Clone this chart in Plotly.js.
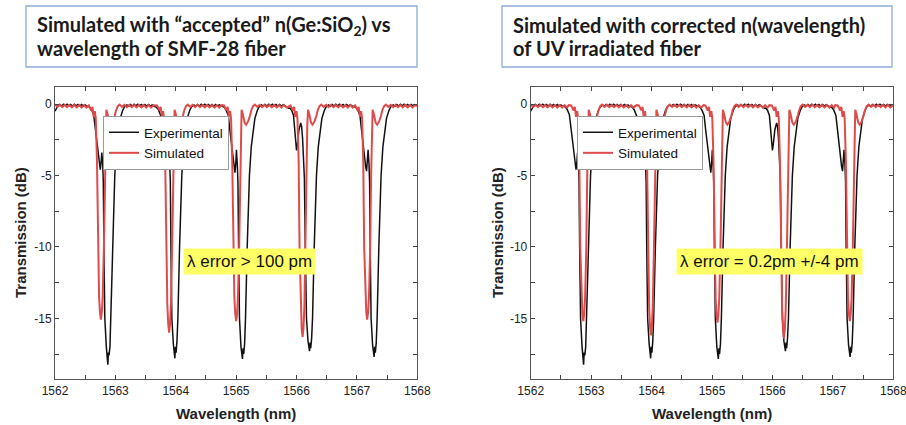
<!DOCTYPE html>
<html>
<head>
<meta charset="utf-8">
<script src="https://cdn.plot.ly/plotly-3.0.1.min.js"></script>
<style>html,body{margin:0;padding:0;background:#fff;}#chart{width:906px;height:425px;}</style>
</head>
<body>
<div id="chart"></div>
<script>
// ---------------- DATA ----------------
// Experimental transmission (same measurement shown in both panels)
const expWavelength = [
1562.00,1562.02,1562.05,1562.08,1562.11,1562.14,1562.17,1562.20,1562.23,1562.26,1562.29,1562.32,1562.35,1562.38,1562.41,1562.44,1562.47,1562.50,1562.53,
1562.57,1562.60,1562.64,1562.665,1562.71,1562.735,1562.75,1562.765,1562.775,1562.79,1562.80,1562.81,1562.825,1562.85,1562.865,1562.875,1562.885,1562.895,1562.91,1562.925,1562.953,1562.99,1563.02,1563.05,1563.08,1563.12,1563.15,1563.19,
1563.22,1563.25,1563.28,1563.31,1563.34,1563.37,1563.40,1563.43,1563.46,1563.49,1563.52,1563.55,1563.58,1563.61,1563.64,
1563.68,1563.71,1563.75,1563.775,1563.82,1563.845,1563.86,1563.875,1563.885,1563.90,1563.91,1563.92,1563.935,1563.96,1563.975,1563.985,1563.995,1564.005,1564.02,1564.035,1564.063,1564.10,1564.13,1564.16,1564.19,1564.23,1564.26,1564.30,
1564.33,1564.36,1564.39,1564.42,1564.45,1564.48,1564.51,1564.54,1564.57,1564.60,1564.63,1564.66,1564.69,1564.72,1564.76,
1564.80,1564.83,1564.87,1564.895,1564.94,1564.965,1564.98,1564.995,1565.005,1565.02,1565.03,1565.04,1565.055,1565.08,1565.095,1565.105,1565.115,1565.125,1565.14,1565.155,1565.183,1565.22,1565.25,1565.28,1565.31,1565.35,1565.38,1565.42,
1565.45,1565.48,1565.51,1565.54,1565.57,1565.60,1565.63,1565.66,1565.69,1565.72,1565.75,1565.78,1565.81,
1565.84,1565.87,1565.89,1565.92,1565.95,1565.975,1565.99,1566.00,1566.015,1566.04,1566.07,1566.085,1566.10,1566.115,1566.13,1566.145,1566.165,1566.19,1566.205,1566.215,1566.225,1566.235,1566.25,1566.265,1566.293,1566.33,1566.36,1566.39,1566.42,1566.46,1566.49,1566.53,
1566.56,1566.59,1566.62,1566.65,1566.68,1566.71,1566.74,1566.77,1566.80,1566.83,1566.86,1566.89,1566.93,
1566.98,1567.01,1567.05,1567.075,1567.12,1567.145,1567.16,1567.175,1567.185,1567.20,1567.21,1567.22,1567.235,1567.26,1567.275,1567.285,1567.295,1567.305,1567.32,1567.335,1567.363,1567.40,1567.43,1567.46,1567.49,1567.53,1567.56,1567.60,
1567.63,1567.66,1567.69,1567.72,1567.75,1567.78,1567.81,1567.84,1567.87,1567.90,1567.93,1567.96,1568.00
];
const expTransmission = [
-0.50,-0.35,-0.12,-0.03,-0.14,-0.02,-0.13,-0.02,-0.13,-0.03,-0.14,-0.02,-0.13,-0.03,-0.14,-0.04,-0.15,-0.06,-0.16,
-0.20,-0.35,-0.75,-1.7,-3.5,-4.3,-4.6,-4.0,-3.4,-4.2,-5.5,-10.0,-15.0,-17.0,-17.6,-18.25,-17.4,-17.6,-17.0,-15.0,-10.0,-5.0,-3.0,-1.9,-1.0,-0.45,-0.2,-0.06,
-0.15,-0.03,-0.14,-0.02,-0.13,-0.02,-0.13,-0.03,-0.14,-0.03,-0.14,-0.04,-0.15,-0.06,-0.16,
-0.22,-0.38,-0.8,-1.7,-3.4,-4.1,-4.4,-3.8,-3.3,-4.2,-5.5,-10.0,-15.0,-16.8,-17.3,-17.8,-17.0,-17.4,-16.6,-15.0,-10.0,-5.0,-3.0,-1.9,-1.0,-0.45,-0.2,-0.06,
-0.15,-0.03,-0.14,-0.02,-0.13,-0.02,-0.13,-0.03,-0.14,-0.03,-0.14,-0.04,-0.15,-0.06,-0.16,
-0.22,-0.4,-0.8,-1.8,-3.6,-4.5,-4.8,-4.1,-3.2,-4.3,-5.6,-10.0,-15.0,-17.0,-17.4,-17.85,-17.1,-17.5,-16.8,-15.0,-10.0,-5.0,-3.0,-1.9,-1.0,-0.45,-0.2,-0.06,
-0.15,-0.03,-0.14,-0.02,-0.13,-0.02,-0.13,-0.03,-0.14,-0.03,-0.14,-0.05,-0.15,
-0.25,-0.3,-0.28,-0.45,-0.8,-1.9,-3.0,-3.25,-2.8,-1.8,-1.33,-1.6,-2.4,-3.6,-5.2,-10.0,-15.0,-16.6,-17.0,-17.3,-16.7,-17.1,-16.4,-15.0,-10.0,-5.0,-3.0,-1.9,-1.0,-0.45,-0.2,-0.06,
-0.15,-0.03,-0.14,-0.02,-0.13,-0.02,-0.13,-0.03,-0.14,-0.03,-0.14,-0.05,-0.16,
-0.22,-0.38,-0.8,-1.8,-3.6,-4.4,-4.7,-4.0,-3.2,-4.2,-5.5,-10.0,-15.0,-16.9,-17.3,-17.7,-17.0,-17.4,-16.7,-15.0,-10.0,-5.0,-3.0,-1.9,-1.0,-0.45,-0.2,-0.06,
-0.15,-0.03,-0.14,-0.02,-0.13,-0.02,-0.13,-0.03,-0.14,-0.03,-0.14,-0.04,-0.10
];

// Simulated with "accepted" n(Ge:SiO2) (left panel)
const simAcceptedWavelength = [
1562.00,1562.04,1562.08,1562.12,1562.16,1562.20,1562.24,1562.28,1562.32,1562.36,1562.40,1562.44,1562.48,1562.52,
1562.56,1562.60,1562.62,1562.64,1562.66,1562.675,1562.695,1562.71,1562.73,1562.745,1562.76,1562.775,1562.79,1562.81,1562.825,1562.838,1562.85,1562.87,1562.90,1562.925,1562.96,1562.99,1563.01,1563.04,1563.07,
1563.11,1563.15,1563.19,1563.23,1563.27,1563.31,1563.35,1563.39,1563.43,1563.47,1563.51,1563.55,1563.59,1563.63,
1563.69,1563.73,1563.75,1563.77,1563.79,1563.805,1563.825,1563.84,1563.86,1563.875,1563.89,1563.905,1563.92,1563.94,1563.955,1563.968,1563.98,1564.00,1564.03,1564.055,1564.09,1564.12,1564.14,1564.17,1564.20,
1564.24,1564.28,1564.32,1564.36,1564.40,1564.44,1564.48,1564.52,1564.56,1564.60,1564.64,1564.68,1564.72,1564.76,
1564.80,1564.84,1564.86,1564.88,1564.90,1564.915,1564.935,1564.95,1564.97,1564.985,1565.00,1565.015,1565.03,1565.05,1565.065,1565.078,1565.09,1565.11,1565.14,1565.165,1565.20,1565.23,1565.25,1565.28,1565.31,
1565.35,1565.39,1565.43,1565.47,1565.51,1565.55,1565.59,1565.63,1565.67,1565.71,1565.75,1565.79,1565.84,
1565.90,1565.94,1565.96,1565.98,1566.00,1566.015,1566.035,1566.05,1566.07,1566.085,1566.10,1566.115,1566.13,1566.15,1566.165,1566.178,1566.19,1566.21,1566.24,1566.265,1566.30,1566.33,1566.35,1566.38,1566.41,
1566.45,1566.49,1566.53,1566.57,1566.61,1566.65,1566.69,1566.73,1566.77,1566.81,1566.85,1566.89,1566.93,
1566.97,1567.01,1567.03,1567.05,1567.07,1567.085,1567.105,1567.12,1567.14,1567.155,1567.17,1567.185,1567.20,1567.22,1567.235,1567.248,1567.26,1567.28,1567.31,1567.335,1567.37,1567.40,1567.42,1567.45,1567.48,
1567.52,1567.56,1567.60,1567.64,1567.68,1567.72,1567.76,1567.80,1567.84,1567.88,1567.92,1567.96,1568.00
];
const simAcceptedTransmission = [
-0.05,-0.20,-0.06,-0.22,-0.06,-0.22,-0.07,-0.23,-0.07,-0.24,-0.08,-0.25,-0.08,-0.25,
-0.10,-0.45,-0.20,-0.90,-0.50,-1.00,-4.0,-10.0,-13.5,-14.6,-15.1,-14.6,-13.5,-10.0,-5.0,-1.5,-0.4,-0.7,-1.3,-1.45,-1.2,-0.8,-0.45,-0.15,-0.04,
-0.20,-0.06,-0.22,-0.06,-0.22,-0.07,-0.23,-0.07,-0.24,-0.08,-0.25,-0.08,-0.25,-0.08,
-0.10,-0.45,-0.20,-0.90,-0.50,-1.00,-4.0,-10.0,-14.0,-15.4,-16.0,-15.4,-14.0,-10.0,-5.0,-1.5,-0.4,-0.7,-1.3,-1.45,-1.2,-0.8,-0.45,-0.15,-0.04,
-0.20,-0.06,-0.22,-0.06,-0.22,-0.07,-0.23,-0.07,-0.24,-0.08,-0.25,-0.08,-0.25,-0.08,
-0.10,-0.45,-0.20,-0.90,-0.50,-1.00,-4.0,-10.0,-13.5,-14.7,-15.2,-14.7,-13.5,-10.0,-5.0,-1.5,-0.4,-0.7,-1.3,-1.45,-1.2,-0.8,-0.45,-0.15,-0.04,
-0.20,-0.06,-0.22,-0.06,-0.22,-0.07,-0.23,-0.07,-0.24,-0.08,-0.25,-0.08,-0.25,
-0.10,-0.45,-0.20,-0.90,-0.50,-1.00,-4.0,-10.0,-14.2,-15.7,-16.3,-15.7,-14.2,-10.0,-5.0,-1.5,-0.4,-0.7,-1.3,-1.45,-1.2,-0.8,-0.45,-0.15,-0.04,
-0.20,-0.06,-0.22,-0.06,-0.22,-0.07,-0.23,-0.07,-0.24,-0.08,-0.25,-0.08,-0.25,
-0.10,-0.45,-0.20,-0.90,-0.50,-1.00,-4.0,-10.0,-13.5,-14.6,-15.1,-14.6,-13.5,-10.0,-5.0,-1.5,-0.4,-0.7,-1.3,-1.45,-1.2,-0.8,-0.45,-0.15,-0.04,
-0.20,-0.06,-0.22,-0.06,-0.22,-0.07,-0.23,-0.07,-0.24,-0.08,-0.24,-0.08,-0.15
];

// Simulated with corrected n(wavelength) of UV irradiated fiber (right panel)
const simCorrectedWavelength = [
1562.00,1562.04,1562.08,1562.12,1562.16,1562.20,1562.24,1562.28,1562.32,1562.36,1562.40,1562.44,1562.48,1562.52,1562.56,1562.60,1562.63,
1562.67,1562.71,1562.73,1562.75,1562.77,1562.785,1562.805,1562.82,1562.84,1562.855,1562.87,1562.885,1562.90,1562.92,1562.935,1562.948,1562.96,1562.98,1563.01,1563.035,1563.07,1563.10,1563.12,1563.15,1563.18,
1563.22,1563.26,1563.30,1563.34,1563.38,1563.42,1563.46,1563.50,1563.54,1563.58,1563.62,1563.66,1563.70,1563.75,
1563.79,1563.83,1563.85,1563.87,1563.89,1563.905,1563.925,1563.94,1563.96,1563.975,1563.99,1564.005,1564.02,1564.04,1564.055,1564.068,1564.08,1564.10,1564.13,1564.155,1564.19,1564.22,1564.24,1564.27,1564.30,
1564.34,1564.38,1564.42,1564.46,1564.50,1564.54,1564.58,1564.62,1564.66,1564.70,1564.74,1564.78,1564.82,1564.86,
1564.89,1564.93,1564.95,1564.97,1564.99,1565.005,1565.025,1565.04,1565.06,1565.075,1565.09,1565.105,1565.12,1565.14,1565.155,1565.168,1565.18,1565.20,1565.23,1565.255,1565.29,1565.32,1565.34,1565.37,1565.40,
1565.44,1565.48,1565.52,1565.56,1565.60,1565.64,1565.68,1565.72,1565.76,1565.80,1565.84,1565.88,1565.92,1565.95,
1565.99,1566.03,1566.05,1566.07,1566.09,1566.105,1566.125,1566.14,1566.16,1566.175,1566.19,1566.205,1566.22,1566.24,1566.255,1566.268,1566.28,1566.30,1566.33,1566.355,1566.39,1566.42,1566.44,1566.47,1566.50,
1566.54,1566.58,1566.62,1566.66,1566.70,1566.74,1566.78,1566.82,1566.86,1566.90,1566.94,1566.98,1567.02,1567.04,
1567.08,1567.12,1567.14,1567.16,1567.18,1567.195,1567.215,1567.23,1567.25,1567.265,1567.28,1567.295,1567.31,1567.33,1567.345,1567.358,1567.37,1567.39,1567.42,1567.445,1567.48,1567.51,1567.53,1567.56,1567.59,
1567.63,1567.67,1567.71,1567.75,1567.79,1567.83,1567.87,1567.91,1567.95,1568.00
];
const simCorrectedTransmission = [
-0.05,-0.20,-0.06,-0.22,-0.06,-0.22,-0.07,-0.23,-0.07,-0.24,-0.08,-0.25,-0.08,-0.25,-0.08,-0.24,-0.08,
-0.10,-0.45,-0.20,-0.90,-0.50,-1.00,-4.0,-10.0,-13.6,-14.7,-15.2,-14.7,-13.6,-10.0,-5.0,-1.5,-0.4,-0.7,-1.3,-1.45,-1.2,-0.8,-0.45,-0.15,-0.04,
-0.20,-0.06,-0.22,-0.06,-0.22,-0.07,-0.23,-0.07,-0.24,-0.08,-0.25,-0.08,-0.25,-0.08,
-0.10,-0.45,-0.20,-0.90,-0.50,-1.00,-4.0,-10.0,-14.2,-15.6,-16.2,-15.6,-14.2,-10.0,-5.0,-1.5,-0.4,-0.7,-1.3,-1.45,-1.2,-0.8,-0.45,-0.15,-0.04,
-0.20,-0.06,-0.22,-0.06,-0.22,-0.07,-0.23,-0.07,-0.24,-0.08,-0.25,-0.08,-0.25,-0.08,
-0.10,-0.45,-0.20,-0.90,-0.50,-1.00,-4.0,-10.0,-13.6,-14.8,-15.3,-14.8,-13.6,-10.0,-5.0,-1.5,-0.4,-0.7,-1.3,-1.45,-1.2,-0.8,-0.45,-0.15,-0.04,
-0.20,-0.06,-0.22,-0.06,-0.22,-0.07,-0.23,-0.07,-0.24,-0.08,-0.25,-0.08,-0.25,-0.08,
-0.10,-0.45,-0.20,-0.90,-0.50,-1.00,-4.0,-10.0,-14.3,-15.8,-16.4,-15.8,-14.3,-10.0,-5.0,-1.5,-0.4,-0.7,-1.3,-1.45,-1.2,-0.8,-0.45,-0.15,-0.04,
-0.20,-0.06,-0.22,-0.06,-0.22,-0.07,-0.23,-0.07,-0.24,-0.08,-0.25,-0.08,-0.25,-0.08,
-0.10,-0.45,-0.20,-0.90,-0.50,-1.00,-4.0,-10.0,-13.6,-14.7,-15.2,-14.7,-13.6,-10.0,-5.0,-1.5,-0.4,-0.7,-1.3,-1.45,-1.2,-0.8,-0.45,-0.15,-0.04,
-0.20,-0.06,-0.22,-0.06,-0.22,-0.07,-0.23,-0.07,-0.24,-0.12
];

const yTickVals = [-15, -10, -5, 0];
const yTickText = ['-15', '-10', '-5', '0'];
const seriesNames = ['Experimental', 'Simulated'];
const panelTitleLines = [
  ['<b>Simulated with “accepted” n(Ge:SiO<sub>2</sub>) vs</b>', '<b>wavelength of SMF-28 fiber</b>'],
  ['<b>Simulated with corrected n(wavelength)</b>', '<b>of UV irradiated fiber</b>']
];
const errorLabels = ['λ error > 100 pm', 'λ error = 0.2pm +/-4 pm'];

// ---------------- CHART ----------------
const W = 906, H = 425;
const px = v => v / W, py = v => 1 - v / H;
const black = '#111111', red = '#df4b4b';
const fontTick = {family: 'Arial, Liberation Sans, sans-serif', size: 12, color: '#222'};

const traces = [
  {x: expWavelength, y: expTransmission, xaxis: 'x', yaxis: 'y', name: seriesNames[0], mode: 'lines',
   line: {color: black, width: 1.5}, legend: 'legend'},
  {x: simAcceptedWavelength, y: simAcceptedTransmission, xaxis: 'x', yaxis: 'y', name: seriesNames[1], mode: 'lines',
   line: {color: red, width: 2}, legend: 'legend'},
  {x: expWavelength, y: expTransmission, xaxis: 'x2', yaxis: 'y2', name: seriesNames[0], mode: 'lines',
   line: {color: black, width: 1.5}, legend: 'legend2'},
  {x: simCorrectedWavelength, y: simCorrectedTransmission, xaxis: 'x2', yaxis: 'y2', name: seriesNames[1], mode: 'lines',
   line: {color: red, width: 2}, legend: 'legend2'}
];

function xAxis(d0, d1, anchor) {
  return {domain: [px(d0), px(d1)], anchor: anchor, range: [1562, 1568], tickmode: 'linear', tick0: 1562, dtick: 1,
    ticks: 'inside', ticklen: 4, tickcolor: '#444', showline: true, linecolor: '#555', linewidth: 1, mirror: 'ticks',
    minor: {tickmode: 'linear', tick0: 1562.5, dtick: 1, ticks: 'inside', ticklen: 4, tickcolor: '#444'},
    ticklabeloverflow: 'allow',
    showgrid: false, zeroline: false, tickfont: fontTick, fixedrange: true};
}
function yAxis(anchor) {
  return {domain: [py(379.3), py(87.3)], anchor: anchor, range: [-19.27, 1.17], tickmode: 'array',
    tickvals: yTickVals, ticktext: yTickText,
    ticks: 'inside', ticklen: 4, tickcolor: '#444', showline: true, linecolor: '#555', linewidth: 1, mirror: 'ticks',
    minor: {tickmode: 'linear', tick0: 0, dtick: 2.5, ticks: 'inside', ticklen: 4, tickcolor: '#444'},
    showgrid: false, zeroline: false, tickfont: fontTick, fixedrange: true};
}

function legendCfg(xl) {
  return {x: px(xl), y: py(116), xanchor: 'left', yanchor: 'top', xref: 'paper', yref: 'paper',
    bgcolor: '#ffffff', bordercolor: '#9a9a9a', borderwidth: 1, tracegroupgap: 0,
    font: {family: 'Arial, Liberation Sans, sans-serif', size: 13.5, color: '#111'}, itemwidth: 30};
}

const titleFont = {family: 'Lato, Open Sans, sans-serif', size: 20, color: '#1a1a1a'};
const axTitleFont = {family: 'Arial, Liberation Sans, sans-serif', size: 15, color: '#222'};

function titleLine(text, xl, yc) {
  return {text: text, xref: 'paper', yref: 'paper', x: px(xl), y: py(yc), xanchor: 'left', yanchor: 'middle',
    align: 'left', showarrow: false, font: titleFont};
}

const layout = {
  width: W, height: H, margin: {l: 0, r: 0, t: 0, b: 0}, paper_bgcolor: '#fff', plot_bgcolor: '#fff',
  showlegend: true,
  xaxis: xAxis(55, 417.3, 'y'),
  yaxis: yAxis('x'),
  xaxis2: xAxis(530.7, 893.3, 'y2'),
  yaxis2: yAxis('x2'),
  legend: legendCfg(103),
  legend2: legendCfg(577),
  shapes: [
    {type: 'rect', xref: 'paper', yref: 'paper', x0: px(26), x1: px(417), y0: py(67), y1: py(6),
     line: {color: '#8eaadb', width: 1.3}, fillcolor: 'rgba(0,0,0,0)', layer: 'above'},
    {type: 'rect', xref: 'paper', yref: 'paper', x0: px(502), x1: px(892), y0: py(67), y1: py(6),
     line: {color: '#8eaadb', width: 1.3}, fillcolor: 'rgba(0,0,0,0)', layer: 'above'}
  ],
  annotations: [
    titleLine(panelTitleLines[0][0], 35, 25),
    titleLine(panelTitleLines[0][1], 35, 48),
    titleLine(panelTitleLines[1][0], 511, 25),
    titleLine(panelTitleLines[1][1], 511, 48),
    {text: errorLabels[0], xref: 'x', yref: 'y', x: 1565.22, y: -11.0, showarrow: false, bgcolor: '#ffff66',
     borderpad: 3, font: {family: 'Arial, Liberation Sans, sans-serif', size: 17, color: '#111'}},
    {text: errorLabels[1], xref: 'x2', yref: 'y2', x: 1565.95, y: -11.0, showarrow: false, bgcolor: '#ffff66',
     borderpad: 3, font: {family: 'Arial, Liberation Sans, sans-serif', size: 17, color: '#111'}},
    {text: '<b>Wavelength (nm)</b>', xref: 'paper', yref: 'paper', x: px(236), y: py(413), showarrow: false,
     xanchor: 'center', yanchor: 'middle', font: axTitleFont},
    {text: '<b>Wavelength (nm)</b>', xref: 'paper', yref: 'paper', x: px(712), y: py(413), showarrow: false,
     xanchor: 'center', yanchor: 'middle', font: axTitleFont},
    {text: '<b>Transmission (dB)</b>', xref: 'paper', yref: 'paper', x: px(20), y: py(233), showarrow: false,
     textangle: -90, xanchor: 'center', yanchor: 'middle', font: axTitleFont},
    {text: '<b>Transmission (dB)</b>', xref: 'paper', yref: 'paper', x: px(497), y: py(233), showarrow: false,
     textangle: -90, xanchor: 'center', yanchor: 'middle', font: axTitleFont}
  ]
};

Plotly.newPlot('chart', traces, layout, {displayModeBar: false, staticPlot: true});
</script>
</body>
</html>
